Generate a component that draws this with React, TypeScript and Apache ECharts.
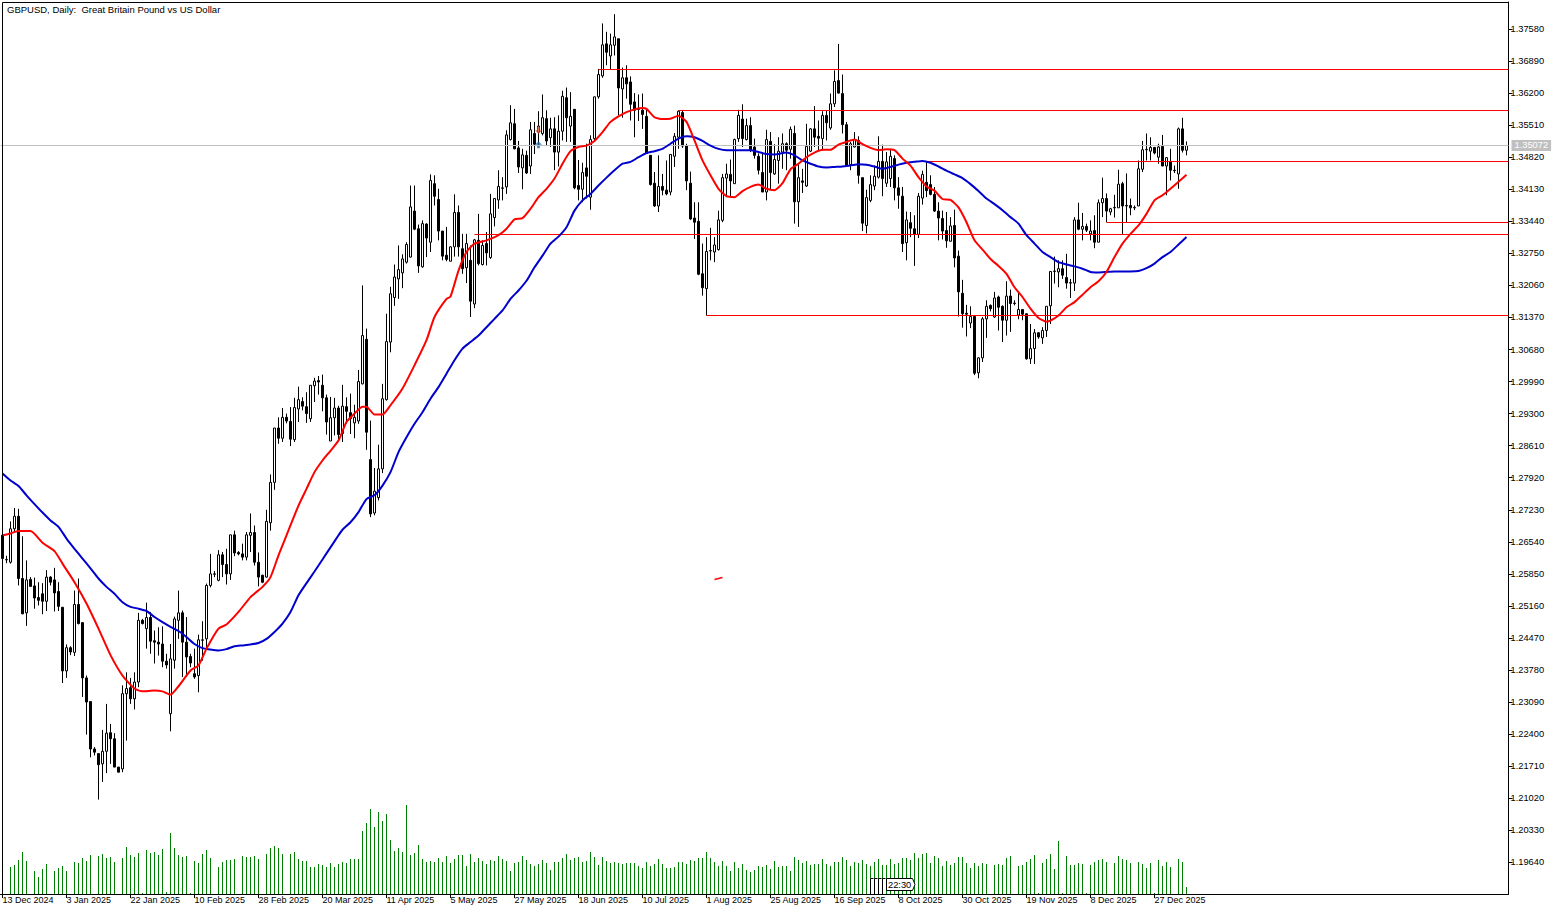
import { useEffect, useRef } from "react";
import * as echarts from "echarts";

const axisFont = "'Liberation Sans', Arial, sans-serif";

// one label every 16 bars, the last one stops before the end of the data
const dateLabels = [
  "13 Dec 2024", "3 Jan 2025", "22 Jan 2025", "10 Feb 2025", "28 Feb 2025", "20 Mar 2025", "11 Apr 2025",
  "5 May 2025", "27 May 2025", "18 Jun 2025", "10 Jul 2025", "1 Aug 2025", "25 Aug 2025", "16 Sep 2025",
  "8 Oct 2025", "30 Oct 2025", "19 Nov 2025", "8 Dec 2025", "27 Dec 2025",
];

const priceTicks = [
  1.3758, 1.3689, 1.362, 1.3551, 1.3482, 1.3413, 1.3344, 1.3275, 1.3206, 1.3137, 1.3068, 1.2999, 1.293, 1.2861,
  1.2792, 1.2723, 1.2654, 1.2585, 1.2516, 1.2447, 1.2378, 1.2309, 1.224, 1.2171, 1.2102, 1.2033, 1.1964,
];

// open, close, high, low
const bars = [
  [1.2668,1.2618,1.2672,1.2615],[1.2615,1.2616,1.2624,1.2608],[1.2610,1.2682,1.2698,1.2607],[1.2682,1.2709,1.2727,1.2675],
  [1.2709,1.2575,1.2725,1.2560],[1.2575,1.2499,1.2666,1.2498],[1.2501,1.2572,1.2614,1.2473],[1.2573,1.2558,1.2578,1.2557],
  [1.2559,1.2533,1.2577,1.2510],[1.2534,1.2528,1.2567,1.2517],[1.2542,1.2526,1.2565,1.2498],[1.2526,1.2578,1.2593,1.2505],
  [1.2578,1.2567,1.2580,1.2560],[1.2572,1.2544,1.2598,1.2504],[1.2547,1.2515,1.2567,1.2505],[1.2513,1.2376,1.2513,1.2350],
  [1.2376,1.2426,1.2433,1.2361],[1.2426,1.2417,1.2429,1.2410],[1.2416,1.2519,1.2549,1.2408],[1.2519,1.2478,1.2575,1.2476],
  [1.2480,1.2361,1.2480,1.2320],[1.2361,1.2309,1.2366,1.2239],[1.2310,1.2208,1.2310,1.2190],[1.2208,1.2201,1.2212,1.2194],
  [1.2198,1.2174,1.2198,1.2099],[1.2176,1.2203,1.2249,1.2137],[1.2203,1.2242,1.2305,1.2156],[1.2243,1.2230,1.2262,1.2176],
  [1.2230,1.2169,1.2242,1.2169],[1.2169,1.2158,1.2169,1.2158],[1.2165,1.2327,1.2345,1.2158],[1.2327,1.2338,1.2373,1.2226],
  [1.2340,1.2316,1.2361,1.2305],[1.2316,1.2352,1.2373,1.2293],[1.2352,1.2485,1.2501,1.2341],[1.2485,1.2478,1.2488,1.2476],
  [1.2467,1.2491,1.2523,1.2424],[1.2491,1.2440,1.2503,1.2413],[1.2441,1.2438,1.2463,1.2392],[1.2438,1.2434,1.2470,1.2409],
  [1.2434,1.2397,1.2472,1.2384],[1.2397,1.2389,1.2413,1.2381],[1.2284,1.2402,1.2434,1.2246],[1.2399,1.2488,1.2493,1.2381],
  [1.2485,1.2501,1.2549,1.2445],[1.2501,1.2438,1.2506,1.2363],[1.2438,1.2406,1.2492,1.2363],[1.2407,1.2393,1.2413,1.2384],
  [1.2370,1.2363,1.2424,1.2359],[1.2366,1.2443,1.2454,1.2330],[1.2442,1.2443,1.2483,1.2398],[1.2445,1.2560,1.2564,1.2427],
  [1.2560,1.2585,1.2628,1.2556],[1.2584,1.2585,1.2591,1.2578],[1.2571,1.2626,1.2636,1.2569],[1.2626,1.2605,1.2632,1.2578],
  [1.2605,1.2585,1.2639,1.2562],[1.2585,1.2669,1.2669,1.2572],[1.2669,1.2630,1.2678,1.2623],[1.2631,1.2628,1.2634,1.2625],
  [1.2628,1.2621,1.2650,1.2614],[1.2621,1.2669,1.2675,1.2614],[1.2668,1.2674,1.2715,1.2632],[1.2674,1.2610,1.2689,1.2603],
  [1.2610,1.2578,1.2631,1.2558],[1.2582,1.2567,1.2583,1.2565],[1.2578,1.2698,1.2723,1.2577],[1.2695,1.2782,1.2799,1.2678],
  [1.2782,1.2899,1.2899,1.2766],[1.2899,1.2877,1.2922,1.2865],[1.2877,1.2922,1.2942,1.2869],[1.2922,1.2914,1.2930,1.2909],
  [1.2913,1.2875,1.2944,1.2860],[1.2874,1.2943,1.2964,1.2869],[1.2940,1.2960,1.2988,1.2912],[1.2956,1.2946,1.2965,1.2937],
  [1.2945,1.2930,1.2976,1.2910],[1.2919,1.2991,1.2991,1.2912],[1.2990,1.3000,1.3007,1.2955],[1.3001,1.2998,1.3011,1.2971],
  [1.2991,1.2964,1.3014,1.2935],[1.2964,1.2912,1.2971,1.2885],[1.2871,1.2921,1.2966,1.2871],[1.2921,1.2942,1.2964,1.2883],
  [1.2942,1.2885,1.2947,1.2872],[1.2887,1.2946,1.2992,1.2869],[1.2945,1.2935,1.2965,1.2908],[1.2932,1.2919,1.2973,1.2886],
  [1.2910,1.2922,1.2949,1.2877],[1.2914,1.2999,1.3024,1.2908],[1.2994,1.3098,1.3206,1.2993],[1.3090,1.2890,1.3113,1.2852],
  [1.2831,1.2714,1.2915,1.2707],[1.2716,1.2763,1.2813,1.2711],[1.2749,1.2811,1.2863,1.2743],[1.2811,1.2962,1.2994,1.2802],
  [1.2960,1.3085,1.3145,1.2958],[1.3084,1.3188,1.3203,1.3062],[1.3180,1.3224,1.3251,1.3162],[1.3220,1.3240,1.3292,1.3177],
  [1.3233,1.3263,1.3273,1.3200],[1.3256,1.3294,1.3299,1.3253],[1.3267,1.3375,1.3421,1.3266],[1.3366,1.3327,1.3421,1.3325],
  [1.3328,1.3248,1.3337,1.3233],[1.3246,1.3339,1.3346,1.3244],[1.3338,1.3308,1.3340,1.3267],[1.3299,1.3432,1.3445,1.3278],
  [1.3425,1.3398,1.3443,1.3378],[1.3391,1.3323,1.3414,1.3303],[1.3323,1.3269,1.3323,1.3260],[1.3271,1.3262,1.3332,1.3258],
  [1.3258,1.3289,1.3290,1.3258],[1.3289,1.3363,1.3402,1.3268],[1.3363,1.3289,1.3378,1.3268],[1.3285,1.3242,1.3317,1.3231],
  [1.3244,1.3296,1.3317,1.3211],[1.3260,1.3172,1.3292,1.3138],[1.3166,1.3304,1.3306,1.3157],[1.3303,1.3253,1.3360,1.3249],
  [1.3251,1.3292,1.3303,1.3249],[1.3296,1.3276,1.3321,1.3249],[1.3266,1.3360,1.3403,1.3263],[1.3352,1.3393,1.3393,1.3333],
  [1.3390,1.3419,1.3454,1.3371],[1.3415,1.3416,1.3439,1.3389],[1.3418,1.3530,1.3540,1.3403],[1.3520,1.3556,1.3594,1.3518],
  [1.3554,1.3500,1.3586,1.3499],[1.3502,1.3461,1.3517,1.3448],[1.3459,1.3487,1.3500,1.3413],[1.3486,1.3448,1.3496,1.3446],
  [1.3463,1.3541,1.3558,1.3446],[1.3533,1.3510,1.3558,1.3489],[1.3536,1.3549,1.3581,1.3505],[1.3533,1.3567,1.3617,1.3529],
  [1.3565,1.3517,1.3583,1.3506],[1.3524,1.3543,1.3567,1.3504],[1.3543,1.3493,1.3568,1.3454],[1.3493,1.3538,1.3572,1.3462],
  [1.3538,1.3613,1.3625,1.3518],[1.3610,1.3567,1.3632,1.3515],[1.3549,1.3570,1.3622,1.3515],[1.3585,1.3416,1.3585,1.3413],
  [1.3421,1.3413,1.3476,1.3389],[1.3413,1.3449,1.3470,1.3385],[1.3459,1.3441,1.3511,1.3393],[1.3396,1.3520,1.3529,1.3369],
  [1.3522,1.3612,1.3612,1.3518],[1.3612,1.3660,1.3672,1.3608],[1.3657,1.3724,1.3770,1.3653],[1.3726,1.3708,1.3752,1.3680],
  [1.3700,1.3724,1.3748,1.3670],[1.3723,1.3741,1.3790,1.3701],[1.3737,1.3631,1.3737,1.3572],[1.3629,1.3653,1.3675,1.3567],
  [1.3653,1.3640,1.3680,1.3608],[1.3644,1.3596,1.3656,1.3561],[1.3601,1.3583,1.3620,1.3525],[1.3585,1.3586,1.3617,1.3560],
  [1.3583,1.3574,1.3619,1.3543],[1.3570,1.3490,1.3586,1.3490],[1.3486,1.3423,1.3486,1.3421],[1.3426,1.3377,1.3450,1.3375],
  [1.3377,1.3419,1.3486,1.3364],[1.3419,1.3411,1.3446,1.3400],[1.3411,1.3403,1.3475,1.3400],[1.3407,1.3488,1.3488,1.3400],
  [1.3484,1.3527,1.3534,1.3461],[1.3525,1.3581,1.3583,1.3500],[1.3578,1.3506,1.3583,1.3502],[1.3507,1.3431,1.3511,1.3411],
  [1.3426,1.3349,1.3451,1.3347],[1.3351,1.3342,1.3385,1.3306],[1.3344,1.3230,1.3385,1.3228],[1.3231,1.3201,1.3296,1.3184],
  [1.3199,1.3279,1.3310,1.3141],[1.3280,1.3281,1.3330,1.3260],[1.3278,1.3293,1.3310,1.3256],[1.3283,1.3347,1.3367,1.3281],
  [1.3346,1.3438,1.3446,1.3342],[1.3437,1.3446,1.3468,1.3396],[1.3445,1.3431,1.3477,1.3396],[1.3425,1.3520,1.3522,1.3425],
  [1.3522,1.3572,1.3584,1.3515],[1.3564,1.3522,1.3596,1.3504],[1.3520,1.3550,1.3565,1.3518],[1.3550,1.3497,1.3568,1.3493],
  [1.3504,1.3486,1.3522,1.3479],[1.3484,1.3454,1.3490,1.3445],[1.3449,1.3407,1.3492,1.3407],[1.3407,1.3520,1.3541,1.3389],
  [1.3516,1.3449,1.3536,1.3411],[1.3446,1.3477,1.3510,1.3444],[1.3475,1.3495,1.3525,1.3425],[1.3493,1.3511,1.3533,1.3457],
  [1.3511,1.3497,1.3514,1.3454],[1.3499,1.3542,1.3548,1.3479],[1.3533,1.3386,1.3550,1.3339],[1.3386,1.3438,1.3468,1.3332],
  [1.3431,1.3428,1.3457,1.3405],[1.3420,1.3505,1.3554,1.3418],[1.3495,1.3543,1.3545,1.3493],[1.3543,1.3525,1.3592,1.3504],
  [1.3527,1.3523,1.3561,1.3497],[1.3522,1.3572,1.3581,1.3497],[1.3572,1.3556,1.3583,1.3518],[1.3545,1.3597,1.3619,1.3541],
  [1.3597,1.3645,1.3669,1.3590],[1.3647,1.3620,1.3726,1.3619],[1.3619,1.3552,1.3660,1.3533],[1.3552,1.3464,1.3558,1.3461],
  [1.3466,1.3511,1.3515,1.3454],[1.3504,1.3520,1.3536,1.3503],[1.3518,1.3443,1.3527,1.3425],[1.3438,1.3340,1.3438,1.3323],
  [1.3335,1.3395,1.3412,1.3318],[1.3389,1.3423,1.3443,1.3385],[1.3420,1.3441,1.3464,1.3411],[1.3439,1.3473,1.3527,1.3436],
  [1.3473,1.3436,1.3509,1.3398],[1.3426,1.3472,1.3493,1.3418],[1.3436,1.3484,1.3500,1.3418],[1.3479,1.3416,1.3486,1.3389],
  [1.3416,1.3400,1.3439,1.3371],[1.3398,1.3296,1.3418,1.3278],[1.3298,1.3347,1.3365,1.3260],[1.3341,1.3329,1.3364,1.3310],
  [1.3328,1.3316,1.3357,1.3248],[1.3316,1.3398,1.3405,1.3308],[1.3394,1.3445,1.3453,1.3380],[1.3428,1.3410,1.3471,1.3396],
  [1.3423,1.3402,1.3443,1.3400],[1.3402,1.3366,1.3418,1.3364],[1.3366,1.3351,1.3385,1.3303],[1.3350,1.3323,1.3367,1.3305],
  [1.3324,1.3302,1.3364,1.3287],[1.3301,1.3334,1.3353,1.3301],[1.3335,1.3265,1.3369,1.3245],[1.3269,1.3192,1.3281,1.3139],
  [1.3189,1.3145,1.3218,1.3115],[1.3146,1.3144,1.3164,1.3096],[1.3125,1.3139,1.3161,1.3114],[1.3139,1.3017,1.3139,1.3013],
  [1.3018,1.3050,1.3051,1.3006],[1.3050,1.3134,1.3138,1.3041],[1.3134,1.3161,1.3174,1.3093],[1.3163,1.3156,1.3165,1.3150],
  [1.3138,1.3179,1.3192,1.3136],[1.3181,1.3159,1.3184,1.3109],[1.3161,1.3131,1.3163,1.3084],[1.3131,1.3183,1.3215,1.3098],
  [1.3183,1.3167,1.3197,1.3106],[1.3168,1.3167,1.3174,1.3163],[1.3142,1.3154,1.3192,1.3133],[1.3154,1.3144,1.3154,1.3131],
  [1.3145,1.3048,1.3145,1.3046],[1.3048,1.3070,1.3123,1.3037],[1.3070,1.3104,1.3112,1.3037],[1.3104,1.3095,1.3105,1.3091],
  [1.3093,1.3109,1.3116,1.3080],[1.3109,1.3161,1.3161,1.3095],[1.3162,1.3236,1.3236,1.3123],[1.3236,1.3237,1.3268,1.3210],
  [1.3235,1.3242,1.3260,1.3202],[1.3242,1.3228,1.3260,1.3220],[1.3223,1.3211,1.3274,1.3199],[1.3211,1.3212,1.3220,1.3179],
  [1.3211,1.3347,1.3353,1.3194],[1.3347,1.3327,1.3384,1.3325],[1.3327,1.3333,1.3362,1.3303],[1.3333,1.3325,1.3339,1.3321],
  [1.3317,1.3323,1.3346,1.3303],[1.3324,1.3299,1.3357,1.3286],[1.3299,1.3384,1.3391,1.3299],[1.3384,1.3393,1.3438,1.3353],
  [1.3393,1.3366,1.3404,1.3342],[1.3364,1.3371,1.3373,1.3357],[1.3373,1.3374,1.3401,1.3352],[1.3373,1.3424,1.3455,1.3373],
  [1.3425,1.3377,1.3429,1.3317],[1.3378,1.3377,1.3447,1.3341],[1.3378,1.3373,1.3393,1.3357],[1.3373,1.3374,1.3378,1.3368],
  [1.3377,1.3457,1.3475,1.3377],[1.3456,1.3498,1.3517,1.3450],[1.3498,1.3499,1.3533,1.3475],[1.3495,1.3503,1.3525,1.3475],
  [1.3503,1.3491,1.3504,1.3488],[1.3482,1.3504,1.3511,1.3468],[1.3505,1.3463,1.3530,1.3463],[1.3463,1.3481,1.3482,1.3400],
  [1.3473,1.3454,1.3500,1.3432],[1.3454,1.3453,1.3464,1.3448],[1.3446,1.3543,1.3546,1.3414],[1.3543,1.3497,1.3567,1.3492],
  [1.3497,1.3507,1.3516,1.3486],
];

const volumes = [
  0,0,81,87,102,126,99,0,69,51,75,90,0,69,78,84,69,0,96,93,108,99,117,0,114,120,108,111,96,0,108,141,
  117,111,123,3,132,123,126,117,135,6,183,138,117,111,114,3,99,93,120,132,108,0,81,96,102,102,105,0,114,111,111,114,
  105,0,120,138,144,138,120,0,120,126,105,99,99,81,81,90,87,81,93,81,90,96,93,105,105,105,189,213,255,201,246,219,
  240,162,129,138,126,267,117,123,147,105,96,99,96,108,96,114,93,105,117,117,84,120,96,108,99,90,102,99,114,105,99,69,
  93,96,114,102,90,84,90,102,93,72,96,96,108,120,102,108,111,96,99,126,111,87,111,99,93,96,93,90,93,93,93,84,
  78,96,84,90,105,90,78,78,81,96,96,90,102,99,108,108,126,108,96,84,99,84,69,96,78,90,72,66,72,84,81,87,
  75,99,81,84,84,69,111,102,93,99,87,90,90,105,90,84,96,96,111,102,84,96,93,102,90,84,96,105,87,87,105,90,
  93,108,108,102,123,108,120,123,93,114,108,84,99,87,93,111,111,93,78,93,84,93,90,0,87,90,87,108,114,0,84,87,
  96,105,117,3,93,105,120,75,159,3,114,87,87,93,90,3,87,96,102,105,96,0,93,114,105,102,93,0,96,90,78,93,
  3,102,84,96,81,0,105,96,21,
];

// bar index, price
const redAverage = [
  [0,1.2668],[2,1.2672],[4,1.2677],[7,1.2677],[10,1.2652],[13,1.2634],[15,1.2607],[18,1.2567],[21,1.2521],[24,1.2467],
  [27,1.2410],[30,1.2366],[33,1.2338],[35,1.2332],[38,1.2334],[40,1.2332],[42,1.2325],[44,1.2343],[47,1.2377],[49,1.2388],
  [51,1.2424],[54,1.2467],[56,1.2476],[59,1.2503],[62,1.2535],[65,1.2557],[67,1.2578],[69,1.2625],[71,1.2668],[74,1.2732],
  [76,1.2768],[78,1.2804],[80,1.2829],[82,1.2850],[84,1.2872],[86,1.2912],[88,1.2930],[90,1.2945],[91,1.2945],[93,1.2928],
  [95,1.2928],[97,1.2948],[100,1.2984],[103,1.3034],[106,1.3088],[108,1.3138],[111,1.3177],[112,1.3182],[114,1.3238],[116,1.3278],
  [118,1.3296],[121,1.3303],[124,1.3314],[126,1.3328],[128,1.3348],[130,1.3351],[132,1.3371],[134,1.3396],[136,1.3414],[138,1.3436],
  [140,1.3468],[142,1.3495],[144,1.3504],[146,1.3507],[148,1.3517],[150,1.3536],[152,1.3558],[154,1.3570],[156,1.3579],[158,1.3585],
  [160,1.3588],[161,1.3586],[163,1.3568],[165,1.3564],[167,1.3565],[169,1.3571],[171,1.3558],[173,1.3518],[175,1.3475],[177,1.3443],
  [179,1.3414],[181,1.3398],[183,1.3396],[185,1.3409],[187,1.3418],[189,1.3423],[191,1.3414],[193,1.3411],[195,1.3426],[197,1.3456],
  [199,1.3468],[201,1.3482],[203,1.3492],[205,1.3498],[207,1.3498],[209,1.3509],[211,1.3515],[213,1.3520],[215,1.3510],[217,1.3502],
  [219,1.3497],[221,1.3499],[223,1.3497],[225,1.3479],[227,1.3464],[229,1.3439],[231,1.3419],[233,1.3410],[235,1.3392],[237,1.3390],
  [239,1.3374],[241,1.3342],[243,1.3303],[245,1.3283],[247,1.3263],[249,1.3248],[251,1.3231],[253,1.3202],[255,1.3181],[257,1.3156],
  [259,1.3136],[261,1.3128],[262,1.3130],[264,1.3141],[266,1.3159],[268,1.3170],[270,1.3186],[272,1.3202],[274,1.3215],[276,1.3235],
  [278,1.3267],[280,1.3296],[282,1.3317],[284,1.3335],[286,1.3360],[288,1.3389],[290,1.3400],[292,1.3414],[294,1.3429],[296,1.3444],
];

const blueAverage = [
  [0,1.2801],[2,1.2786],[4,1.2774],[6,1.2754],[8,1.2735],[10,1.2717],[12,1.2700],[14,1.2686],[16,1.2661],[18,1.2639],
  [20,1.2618],[22,1.2597],[24,1.2575],[26,1.2557],[28,1.2542],[30,1.2524],[32,1.2514],[34,1.2510],[36,1.2505],[38,1.2492],
  [40,1.2481],[42,1.2471],[44,1.2462],[46,1.2449],[48,1.2434],[50,1.2425],[52,1.2422],[54,1.2420],[56,1.2423],[58,1.2429],
  [60,1.2431],[62,1.2433],[64,1.2436],[66,1.2445],[68,1.2460],[70,1.2478],[72,1.2503],[74,1.2539],[76,1.2565],[78,1.2590],
  [80,1.2616],[82,1.2642],[84,1.2668],[85,1.2680],[87,1.2696],[89,1.2718],[91,1.2746],[93,1.2754],[95,1.2775],[97,1.2804],
  [99,1.2847],[101,1.2879],[103,1.2908],[105,1.2933],[107,1.2962],[109,1.2987],[111,1.3016],[113,1.3045],[115,1.3070],[117,1.3084],
  [119,1.3098],[121,1.3116],[123,1.3134],[125,1.3152],[127,1.3177],[129,1.3195],[131,1.3216],[133,1.3245],[135,1.3270],[137,1.3296],
  [139,1.3311],[141,1.3331],[143,1.3367],[145,1.3389],[147,1.3403],[149,1.3421],[151,1.3438],[153,1.3454],[155,1.3468],[157,1.3472],
  [159,1.3482],[161,1.3491],[163,1.3495],[165,1.3500],[167,1.3511],[169,1.3522],[171,1.3527],[173,1.3525],[175,1.3517],[177,1.3507],
  [179,1.3500],[181,1.3497],[183,1.3497],[185,1.3497],[187,1.3497],[189,1.3493],[191,1.3489],[193,1.3488],[196,1.3492],[198,1.3486],
  [200,1.3475],[202,1.3468],[204,1.3462],[206,1.3460],[208,1.3461],[210,1.3462],[212,1.3464],[214,1.3467],[216,1.3466],[218,1.3462],
  [220,1.3457],[222,1.3461],[224,1.3466],[226,1.3470],[228,1.3472],[230,1.3474],[232,1.3470],[234,1.3462],[236,1.3453],[238,1.3445],
  [240,1.3437],[242,1.3424],[244,1.3409],[246,1.3393],[248,1.3381],[250,1.3368],[252,1.3353],[254,1.3339],[256,1.3314],[258,1.3296],
  [260,1.3278],[262,1.3267],[264,1.3256],[266,1.3251],[268,1.3247],[270,1.3242],[272,1.3235],[274,1.3234],[276,1.3235],[278,1.3236],
  [280,1.3236],[282,1.3236],[284,1.3237],[286,1.3243],[288,1.3253],[290,1.3267],[292,1.3278],[294,1.3294],[296,1.3310],
];

// start bar and price of each horizontal level
const levels = [
  [149, 1.36708], [169, 1.35825], [231, 1.34727], [276, 1.33414], [118, 1.33156], [176, 1.31412],
];

const bidPrice = 1.35072;
const sellMark = [134, 1.354];
const buyMark = [134, 1.3509];
const strayStroke = [[178, 1.2573], [179, 1.2575], [180, 1.2577]];
const countdown = "22:30";

const BAR_SLOTS = 377;
const LAST_SLOT = BAR_SLOTS - 0.5;
const arrowPath = "path://M5 0L10 5L7 5L7 10L3 10L3 5L0 5Z";

const categories = Array.from({ length: BAR_SLOTS }, (_, i) => (i % 16 === 0 && dateLabels[i / 16]) || "");
const showDate = (i: number) => i % 16 === 0 && i / 16 < dateLabels.length;

export default function App() {
  const ref = useRef<HTMLDivElement>(null);

  useEffect(() => {
    if (!ref.current) return;
    document.body.style.margin = "0";
    const chart = echarts.init(ref.current, null, { renderer: "svg" });
    chart.setOption({
      animation: false,
      backgroundColor: "#ffffff",
      title: {
        text: "GBPUSD, Daily:  Great Britain Pound vs US Dollar",
        left: 7,
        top: 4,
        padding: 0,
        textStyle: { fontFamily: axisFont, fontSize: 9.5, fontWeight: "normal", color: "#000" },
      },
      grid: { left: 0.5, top: 2, width: 1508, height: 892, outerBoundsMode: "none" },
      xAxis: [
        {
          type: "category",
          data: categories,
          boundaryGap: true,
          axisLine: { show: true, onZero: false, lineStyle: { color: "#000", width: 1 } },
          axisTick: { show: true, alignWithLabel: true, length: 4, interval: showDate, lineStyle: { color: "#000" } },
          axisLabel: {
            interval: showDate,
            align: "left",
            margin: 1,
            fontFamily: axisFont,
            fontSize: 9,
            color: "#000",
            hideOverlap: false,
          },
          splitLine: { show: false },
        },
        { type: "value", min: -0.5, max: LAST_SLOT, show: false, splitLine: { show: false } },
      ],
      yAxis: [
        {
          type: "value",
          position: "right",
          min: 1.189575,
          max: 1.381614,
          axisLine: { show: true, onZero: false, lineStyle: { color: "#000", width: 1 } },
          axisTick: { show: true, length: 4, customValues: priceTicks, lineStyle: { color: "#000" } },
          axisLabel: {
            customValues: priceTicks,
            margin: 2,
            fontFamily: axisFont,
            fontSize: 9.3,
            color: "#000",
            formatter: (v: number) => v.toFixed(5),
          },
          splitLine: { show: false },
        },
        { type: "value", min: 0, max: 2676, show: false, splitLine: { show: false } },
      ],
      series: [
        {
          type: "bar",
          xAxisIndex: 0,
          yAxisIndex: 1,
          data: volumes,
          barWidth: 1,
          silent: true,
          itemStyle: { color: "#008000" },
        },
        {
          type: "line",
          xAxisIndex: 1,
          yAxisIndex: 0,
          data: [[-0.5, bidPrice], [LAST_SLOT, bidPrice]],
          showSymbol: false,
          silent: true,
          clip: false,
          lineStyle: { color: "#c0c0c0", width: 1 },
          endLabel: {
            show: true,
            formatter: () => bidPrice.toFixed(5),
            distance: 3,
            padding: [1, 3, 1, 3],
            backgroundColor: "#c0c0c0",
            color: "#ffffff",
            fontFamily: axisFont,
            fontSize: 9.3,
          },
        },
        {
          type: "candlestick",
          xAxisIndex: 0,
          yAxisIndex: 0,
          barWidth: 2,
          silent: true,
          data: bars.map(([o, c, h, l]) => [o, c, l, h]),
          itemStyle: {
            color: "#ffffff",
            color0: "#000000",
            borderColor: "#000000",
            borderColor0: "#000000",
            borderWidth: 1,
          },
        },
        ...levels.map(([start, price]) => ({
          type: "line",
          xAxisIndex: 1,
          yAxisIndex: 0,
          data: [[start, price], [LAST_SLOT, price]],
          showSymbol: false,
          silent: true,
          lineStyle: { color: "#ff0000", width: 1 },
        })),
        {
          type: "line",
          xAxisIndex: 1,
          yAxisIndex: 0,
          data: blueAverage,
          showSymbol: false,
          silent: true,
          smooth: 0.2,
          lineStyle: { color: "#0000cd", width: 2 },
        },
        {
          type: "line",
          xAxisIndex: 1,
          yAxisIndex: 0,
          data: redAverage,
          showSymbol: false,
          silent: true,
          smooth: 0.2,
          lineStyle: { color: "#ff0000", width: 2 },
        },
        {
          type: "line",
          xAxisIndex: 1,
          yAxisIndex: 0,
          data: strayStroke,
          showSymbol: false,
          silent: true,
          lineStyle: { color: "#ff0000", width: 1.5 },
        },
        {
          type: "scatter",
          xAxisIndex: 1,
          yAxisIndex: 0,
          data: [sellMark],
          symbol: arrowPath,
          symbolRotate: 180,
          symbolSize: 7,
          silent: true,
          itemStyle: { color: "#d8502a" },
        },
        {
          type: "scatter",
          xAxisIndex: 1,
          yAxisIndex: 0,
          data: [buyMark],
          symbol: arrowPath,
          symbolSize: 7,
          silent: true,
          itemStyle: { color: "#1c6fb5" },
        },
      ],
      graphic: [
        { type: "line", z: 100, shape: { x1: 2.5, y1: 2.5, x2: 1508.5, y2: 2.5 }, style: { stroke: "#000", lineWidth: 1 } },
        { type: "line", z: 100, shape: { x1: 2.5, y1: 2.5, x2: 2.5, y2: 894.5 }, style: { stroke: "#000", lineWidth: 1 } },
        ...[870.5, 874.5, 878.5, 882.5].map((x) => ({
          type: "polyline",
          z: 100,
          shape: { points: [[x, 894], [x, 878.5], [x + 3, 878.5]] },
          style: { stroke: "#000", fill: "#fff", lineWidth: 1 },
        })),
        {
          type: "polygon",
          z: 101,
          shape: { points: [[886.5, 878.5], [912.5, 878.5], [915, 884.5], [912.5, 890.5], [886.5, 890.5]] },
          style: { fill: "#fff", stroke: "#000", lineWidth: 1 },
        },
        {
          type: "text",
          z: 102,
          x: 888,
          y: 880,
          style: { text: countdown, fill: "#000", fontFamily: axisFont, fontSize: 9.3 },
        },
      ],
    });
    return () => chart.dispose();
  }, []);

  return <div ref={ref} style={{ position: "fixed", left: 0, top: 0, width: 1561, height: 915 }} />;
}
